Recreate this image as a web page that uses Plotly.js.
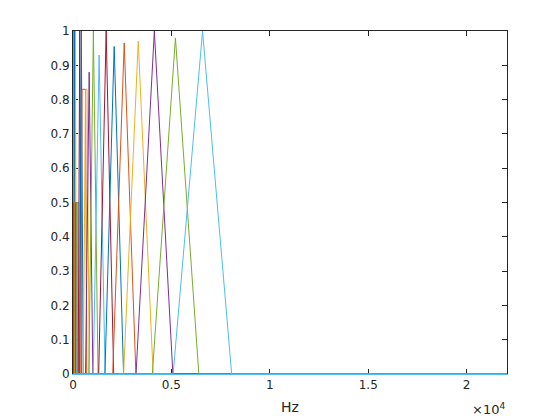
<!DOCTYPE html>
<html>
<head>
<meta charset="utf-8">
<script src="https://cdn.plot.ly/plotly-3.0.1.min.js"></script>
<style>html,body{margin:0;padding:0;background:#fff;}#chart{width:560px;height:420px;}</style>
</head>
<body>
<div id="chart"></div>
<script>
// Filter centre frequencies (Hz), left to right
const centers = [16, 20, 26, 32, 41, 51, 65, 82, 103, 129, 163, 205, 265, 342, 423, 548, 676, 822, 1036, 1327, 1684, 2092, 2602, 3316, 4133, 5204, 6582];
// Lower zero crossings (Hz)
const lowEdges = [12, 16, 20, 25, 32, 40, 50, 64, 80, 100, 126, 159, 205, 265, 328, 400, 520, 637, 803, 1028, 1305, 1621, 2017, 2570, 3203, 4031, 5087];
// Upper zero crossings (Hz)
const highEdges = [20, 25, 32, 39, 50, 63, 80, 101, 126, 158, 200, 252, 325, 420, 519, 700, 830, 1009, 1272, 1630, 2068, 2569, 3195, 4072, 5075, 6393, 8061];
// Peak heights
const peaks = [1, 1, 1, 1, 0.5, 1, 0.5, 1, 0.5, 1, 0.5, 0.5, 0.5, 1, 1, 0.83, 0.83, 0.88, 1, 0.93, 1, 0.955, 0.965, 0.97, 1, 0.98, 1];
// Width of flat tops (Hz)
const flatTops = [0, 0, 0, 0, 20, 0, 30, 0, 40, 0, 50, 60, 70, 0, 0, 179, 76, 0, 0, 0, 0, 0, 0, 0, 0, 0, 0];
const xMax = 22050;
const palette = ['#0072BD', '#D95319', '#EDB120', '#7E2F8E', '#77AC30', '#4DBEEE', '#A2142F'];
const xTickVals = [0, 5000, 10000, 15000, 20000];
const xTickText = ['0', '0.5', '1', '1.5', '2'];
const yTickVals = [0, 0.1, 0.2, 0.3, 0.4, 0.5, 0.6, 0.7, 0.8, 0.9, 1];
const yTickText = ['0', '0.1', '0.2', '0.3', '0.4', '0.5', '0.6', '0.7', '0.8', '0.9', '1'];

const traces = centers.map((c, i) => {
  const h = peaks[i];
  const f = flatTops[i] / 2;
  const l = Math.min(lowEdges[i], c - f);
  const hi = Math.max(highEdges[i], c + f);
  return {
    x: [0, l, c - f, c + f, hi, xMax],
    y: [0, 0, h, h, 0, 0],
    type: 'scatter', mode: 'lines',
    line: {color: palette[i % 7], width: 1},
    hoverinfo: 'skip', showlegend: false
  };
});

const tickFont = {family: 'DejaVu Sans', size: 12, color: '#262626'};
const layout = {
  width: 560, height: 420,
  margin: {l: 73, r: 53, t: 31, b: 46},
  paper_bgcolor: '#ffffff', plot_bgcolor: '#ffffff',
  xaxis: {
    range: [0, xMax], tickmode: 'array', tickvals: xTickVals, ticktext: xTickText,
    showgrid: false, zeroline: false, showline: true, linecolor: '#4DBEEE', linewidth: 1,
    mirror: false, ticks: 'inside', ticklen: 5, tickcolor: '#262626', tickwidth: 1,
    tickfont: tickFont, layer: 'below traces',
    title: {text: 'Hz', font: {family: 'DejaVu Sans', size: 14, color: '#262626'}, standoff: 10}
  },
  xaxis2: {
    overlaying: 'x', matches: 'x', side: 'top', range: [0, xMax],
    tickmode: 'array', tickvals: xTickVals, showticklabels: false,
    showgrid: false, zeroline: false, showline: true, linecolor: '#262626', linewidth: 1,
    ticks: 'inside', ticklen: 5, tickcolor: '#262626', tickwidth: 1, layer: 'below traces'
  },
  yaxis: {
    range: [0, 1], tickmode: 'array', tickvals: yTickVals, ticktext: yTickText,
    showgrid: false, zeroline: false, showline: true, linecolor: '#262626', linewidth: 1,
    mirror: 'ticks', ticks: 'inside', ticklen: 5, tickcolor: '#262626', tickwidth: 1,
    tickfont: tickFont, layer: 'below traces'
  },
  annotations: [{
    text: '×10<sup>4</sup>', xref: 'paper', yref: 'paper', x: 1.0, y: -0.072,
    xanchor: 'right', yanchor: 'top', showarrow: false,
    font: {family: 'DejaVu Sans', size: 13, color: '#262626'}
  }]
};
// invisible trace to anchor the top axis
traces.push({x: [0], y: [0], xaxis: 'x2', yaxis: 'y', type: 'scatter', mode: 'none', hoverinfo: 'skip', showlegend: false});
Plotly.newPlot('chart', traces, layout, {displayModeBar: false, staticPlot: true});
</script>
</body>
</html>
